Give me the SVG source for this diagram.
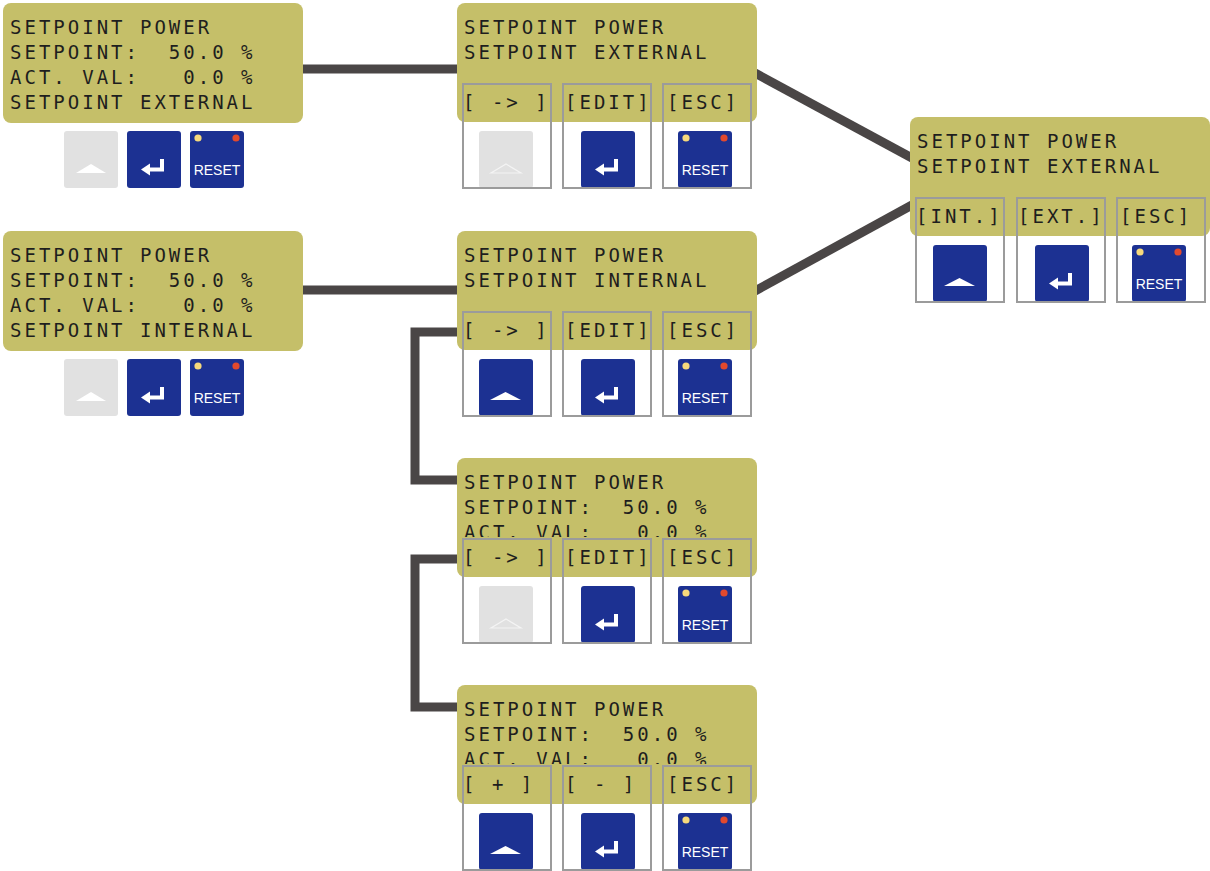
<svg xmlns="http://www.w3.org/2000/svg" xmlns:xlink="http://www.w3.org/1999/xlink" width="1210" height="871" viewBox="0 0 1210 871">
<style>
.panel{fill:#c5bf69;}
.lcd{font-family:"DejaVu Sans Mono","Liberation Mono",monospace;font-size:19px;letter-spacing:3px;fill:#1e1e1e;white-space:pre;}
.box{fill:none;stroke:#9b9b9b;stroke-width:2;}
.conn{fill:none;stroke:#4a4646;stroke-width:9;stroke-linejoin:miter;}
.blue{fill:#1c3192;}
.grey{fill:#e1e1e1;}
.rst{font-family:"Liberation Sans",Arial,sans-serif;font-size:14px;fill:#ffffff;text-anchor:middle;}
</style>
<defs>
<clipPath id="clip6"><rect x="457" y="458" width="300" height="79"/></clipPath>
<clipPath id="clip7"><rect x="457" y="685" width="300" height="79"/></clipPath>
<g id="bUp"><rect class="blue" width="54" height="57" rx="3"/><polygon points="11,41 42,41 26.5,33" fill="#ffffff"/></g>
<g id="bEnter"><rect class="blue" width="54" height="57" rx="3"/><path d="M35,28 V38.5 H22" fill="none" stroke="#ffffff" stroke-width="4"/><polygon points="14,38.5 23,32.5 23,44.5" fill="#ffffff"/></g>
<g id="bReset"><rect class="blue" width="54" height="57" rx="3"/><circle cx="8" cy="7" r="3.6" fill="#f6d97c"/><circle cx="46" cy="7" r="3.6" fill="#e2492d"/><text class="rst" x="27" y="44">RESET</text></g>
<g id="bUpOff"><rect class="grey" width="54" height="57" rx="3"/><polygon points="12,42 42,42 27,33" fill="#ffffff"/></g>
<g id="bUpOffO"><rect class="grey" width="54" height="57" rx="3"/><polygon points="12,42 42,42 27,33" fill="none" stroke="#f4f4f4" stroke-width="1.2"/></g>
</defs>
<rect width="1210" height="871" fill="#ffffff"/>
<g id="connectors">
<line class="conn" x1="300" y1="69" x2="460" y2="69"/>
<line class="conn" x1="300" y1="290" x2="460" y2="290"/>
<line class="conn" x1="755" y1="73" x2="912" y2="158"/>
<line class="conn" x1="755" y1="291" x2="912" y2="205"/>
<path class="conn" d="M460,332 H415 V480 H460"/>
<path class="conn" d="M460,559 H415 V707 H460"/>
</g>
<g id="p1">
<rect class="panel" x="3" y="3" width="300" height="120" rx="8"/>
<text class="lcd" x="10" y="34">SETPOINT POWER</text>
<text class="lcd" x="10" y="59">SETPOINT:  50.0 %</text>
<text class="lcd" x="10" y="84">ACT. VAL:   0.0 %</text>
<text class="lcd" x="10" y="109">SETPOINT EXTERNAL</text>
<use xlink:href="#bUpOff" x="64" y="131"/>
<use xlink:href="#bEnter" x="127" y="131"/>
<use xlink:href="#bReset" x="190" y="131"/>
</g>
<g id="p4">
<rect class="panel" x="3" y="231" width="300" height="120" rx="8"/>
<text class="lcd" x="10" y="262">SETPOINT POWER</text>
<text class="lcd" x="10" y="287">SETPOINT:  50.0 %</text>
<text class="lcd" x="10" y="312">ACT. VAL:   0.0 %</text>
<text class="lcd" x="10" y="337">SETPOINT INTERNAL</text>
<use xlink:href="#bUpOff" x="64" y="359"/>
<use xlink:href="#bEnter" x="127" y="359"/>
<use xlink:href="#bReset" x="190" y="359"/>
</g>
<g id="p2">
<rect class="panel" x="457" y="3" width="300" height="119" rx="8"/>
<text class="lcd" x="464" y="34">SETPOINT POWER</text>
<text class="lcd" x="464" y="59">SETPOINT EXTERNAL</text>
<text class="lcd" x="463" y="109">[ -&gt; ]</text>
<text class="lcd" x="565" y="109">[EDIT]</text>
<text class="lcd" x="667" y="109">[ESC]</text>
<use xlink:href="#bUpOffO" x="479" y="131"/>
<use xlink:href="#bEnter" x="581" y="131"/>
<use xlink:href="#bReset" x="678" y="131"/>
<rect class="box" x="463" y="84" width="88" height="104"/>
<rect class="box" x="563" y="84" width="88" height="104"/>
<rect class="box" x="663" y="84" width="88" height="104"/>
</g>
<g id="p3">
<rect class="panel" x="910" y="117" width="300" height="119" rx="8"/>
<text class="lcd" x="917" y="148">SETPOINT POWER</text>
<text class="lcd" x="917" y="173">SETPOINT EXTERNAL</text>
<text class="lcd" x="916" y="223">[INT.]</text>
<text class="lcd" x="1018" y="223">[EXT.]</text>
<text class="lcd" x="1120" y="223">[ESC]</text>
<use xlink:href="#bUp" x="933" y="245"/>
<use xlink:href="#bEnter" x="1035" y="245"/>
<use xlink:href="#bReset" x="1132" y="245"/>
<rect class="box" x="916" y="198" width="88" height="104"/>
<rect class="box" x="1017" y="198" width="88" height="104"/>
<rect class="box" x="1117" y="198" width="88" height="104"/>
</g>
<g id="p5">
<rect class="panel" x="457" y="231" width="300" height="119" rx="8"/>
<text class="lcd" x="464" y="262">SETPOINT POWER</text>
<text class="lcd" x="464" y="287">SETPOINT INTERNAL</text>
<text class="lcd" x="463" y="337">[ -&gt; ]</text>
<text class="lcd" x="565" y="337">[EDIT]</text>
<text class="lcd" x="667" y="337">[ESC]</text>
<use xlink:href="#bUp" x="479" y="359"/>
<use xlink:href="#bEnter" x="581" y="359"/>
<use xlink:href="#bReset" x="678" y="359"/>
<rect class="box" x="463" y="312" width="88" height="104"/>
<rect class="box" x="563" y="312" width="88" height="104"/>
<rect class="box" x="663" y="312" width="88" height="104"/>
</g>
<g id="p6">
<rect class="panel" x="457" y="458" width="300" height="119" rx="8"/>
<text class="lcd" x="464" y="489">SETPOINT POWER</text>
<text class="lcd" x="464" y="514">SETPOINT:  50.0 %</text>
<text class="lcd" x="464" y="539" clip-path="url(#clip6)">ACT. VAL:   0.0 %</text>
<text class="lcd" x="463" y="564">[ -&gt; ]</text>
<text class="lcd" x="565" y="564">[EDIT]</text>
<text class="lcd" x="667" y="564">[ESC]</text>
<use xlink:href="#bUpOffO" x="479" y="586"/>
<use xlink:href="#bEnter" x="581" y="586"/>
<use xlink:href="#bReset" x="678" y="586"/>
<rect class="box" x="463" y="539" width="88" height="104"/>
<rect class="box" x="563" y="539" width="88" height="104"/>
<rect class="box" x="663" y="539" width="88" height="104"/>
</g>
<g id="p7">
<rect class="panel" x="457" y="685" width="300" height="119" rx="8"/>
<text class="lcd" x="464" y="716">SETPOINT POWER</text>
<text class="lcd" x="464" y="741">SETPOINT:  50.0 %</text>
<text class="lcd" x="464" y="766" clip-path="url(#clip7)">ACT. VAL:   0.0 %</text>
<text class="lcd" x="463" y="791">[ + ]</text>
<text class="lcd" x="565" y="791">[ - ]</text>
<text class="lcd" x="667" y="791">[ESC]</text>
<use xlink:href="#bUp" x="479" y="813"/>
<use xlink:href="#bEnter" x="581" y="813"/>
<use xlink:href="#bReset" x="678" y="813"/>
<rect class="box" x="463" y="766" width="88" height="104"/>
<rect class="box" x="563" y="766" width="88" height="104"/>
<rect class="box" x="663" y="766" width="88" height="104"/>
</g>
</svg>
